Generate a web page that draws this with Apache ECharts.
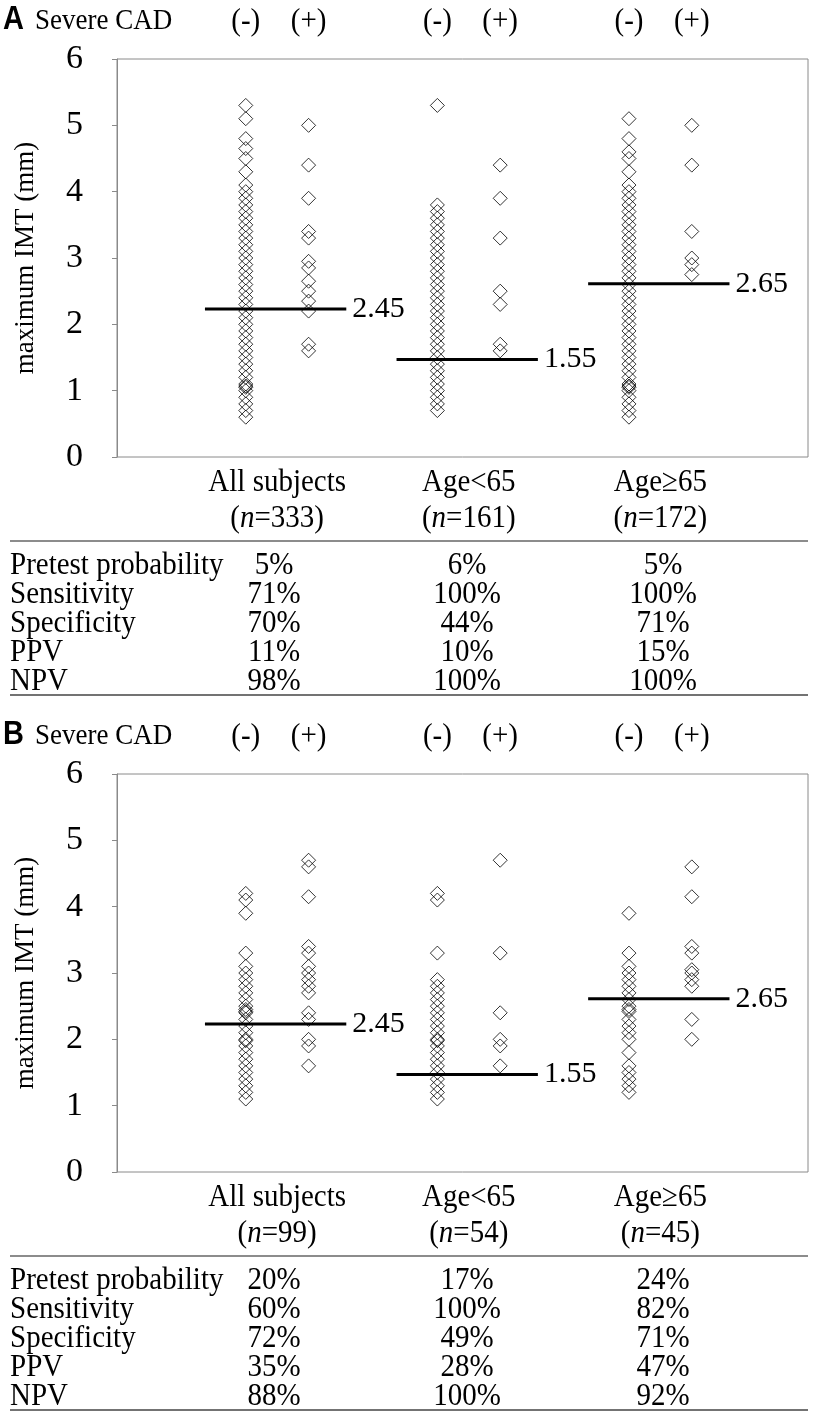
<!DOCTYPE html>
<html>
<head>
<meta charset="utf-8">
<script src="https://cdn.jsdelivr.net/npm/echarts@6/dist/echarts.min.js"></script>
<style>
html,body{margin:0;padding:0;background:#fff;}
#c{width:822px;height:1419px;}
</style>
</head>
<body>
<div id="c"></div>
<script>
// ---------- data ----------
const panels = ['A', 'B'];
const groupNames = ['All subjects', 'Age<65', 'Age\u226565'];
const nA = ['333', '161', '172'];
const nB = ['99', '54', '45'];
const cadLabels = ['(-)', '(+)'];
const yTicks = [0, 1, 2, 3, 4, 5, 6];
const cutoffText = ['2.45', '1.55', '2.65'];
const cutoffLevel = [2.23, 1.47, 2.61]; // drawn height

// Panel A
const aAllNeg = [5.3, 5.1, 4.8, 4.65, 4.5, 4.3, 4.1, 4.0, 3.9, 3.8, 3.7, 3.6, 3.5, 3.4, 3.3, 3.2, 3.1, 3.0, 2.9, 2.8, 2.7, 2.6, 2.5, 2.4, 2.3, 2.2, 2.1, 2.0, 1.9, 1.8, 1.7, 1.6, 1.5, 1.4, 1.3, 1.2, 1.1, 1.05, 1.07, 1.0, 0.9, 0.8, 0.7, 0.6];
const aAllPos = [5.0, 4.4, 3.9, 3.4, 3.3, 2.95, 2.85, 2.65, 2.5, 2.35, 2.2, 1.7, 1.6];
const aYoungNeg = [5.3, 3.8, 3.7, 3.6, 3.5, 3.4, 3.3, 3.2, 3.1, 3.0, 2.9, 2.8, 2.7, 2.6, 2.5, 2.4, 2.3, 2.2, 2.1, 2.0, 1.9, 1.8, 1.7, 1.6, 1.5, 1.4, 1.3, 1.2, 1.1, 1.0, 0.9, 0.8, 0.7];
const aYoungPos = [4.4, 3.9, 3.3, 2.5, 2.3, 1.7, 1.6];
const aOldNeg = [5.1, 4.8, 4.6, 4.5, 4.3, 4.1, 4.0, 3.9, 3.8, 3.7, 3.6, 3.5, 3.4, 3.3, 3.2, 3.1, 3.0, 2.9, 2.8, 2.7, 2.6, 2.5, 2.4, 2.3, 2.2, 2.1, 2.0, 1.9, 1.8, 1.7, 1.6, 1.5, 1.4, 1.3, 1.2, 1.1, 1.05, 1.07, 1.0, 0.9, 0.8, 0.7, 0.6];
const aOldPos = [5.0, 4.4, 3.4, 3.0, 2.9, 2.75];

// Panel B
const bAllNeg = [4.2, 4.1, 3.9, 3.3, 3.1, 3.0, 2.9, 2.8, 2.7, 2.6, 2.5, 2.42, 2.45, 2.4, 2.3, 2.2, 2.1, 1.98, 2.0, 1.9, 1.8, 1.7, 1.6, 1.5, 1.4, 1.3, 1.2, 1.1];
const bAllPos = [4.7, 4.6, 4.15, 3.4, 3.3, 3.1, 3.0, 2.9, 2.8, 2.7, 2.4, 2.3, 2.0, 1.9, 1.6];
const bYoungNeg = [4.2, 4.1, 3.3, 2.9, 2.8, 2.7, 2.6, 2.5, 2.4, 2.3, 2.2, 2.1, 1.98, 2.0, 1.9, 1.8, 1.7, 1.6, 1.5, 1.4, 1.3, 1.2, 1.1];
const bYoungPos = [4.7, 3.3, 2.4, 2.0, 1.9, 1.6];
const bOldNeg = [3.9, 3.3, 3.1, 3.0, 2.9, 2.8, 2.7, 2.6, 2.5, 2.42, 2.45, 2.3, 2.2, 2.1, 2.0, 1.8, 1.6, 1.5, 1.4, 1.3, 1.2];
const bOldPos = [4.6, 4.15, 3.4, 3.3, 3.05, 3.0, 2.9, 2.8, 2.3, 2.0];

const rowLabels = ['Pretest probability', 'Sensitivity', 'Specificity', 'PPV', 'NPV'];
const tableA = [['5%', '6%', '5%'], ['71%', '100%', '100%'], ['70%', '44%', '71%'], ['11%', '10%', '15%'], ['98%', '100%', '100%']];
const tableB = [['20%', '17%', '24%'], ['60%', '100%', '82%'], ['72%', '49%', '71%'], ['35%', '28%', '47%'], ['88%', '100%', '92%']];

// ---------- layout / style ----------
const SERIF = '"Liberation Serif", "Times New Roman", serif';
const SANS = '"Liberation Sans", Arial, sans-serif';
const FS = 29;
const SY = 1.12; // vertical stretch of the reference lettering
const groupCenter = [2.55, 5.6, 8.65];   // x-axis units
const colOffset = [-0.5, 0.5];
const lineFrom = -1.15, lineTo = 1.1;
const gridTop = [59, 774];
const gridH = 398;
const gridLeft = 117, gridW = 691;
const tableCols = [274, 467, 663];

const panelData = [
  [[aAllNeg, aAllPos], [aYoungNeg, aYoungPos], [aOldNeg, aOldPos]],
  [[bAllNeg, bAllPos], [bYoungNeg, bYoungPos], [bOldNeg, bOldPos]]
];
const panelN = [nA, nB];
const panelTable = [tableA, tableB];

const chart = echarts.init(document.getElementById('c'), null, {renderer: 'canvas'});

const grids = [], xAxes = [], yAxes = [], series = [];
panels.forEach((p, pi) => {
  grids.push({left: gridLeft, top: gridTop[pi], width: gridW, height: gridH, show: true,
    borderColor: '#8a8a8a', borderWidth: 1, backgroundColor: 'transparent'});
  xAxes.push({type: 'value', gridIndex: pi, min: 0, max: 11, show: false});
  yAxes.push({type: 'value', gridIndex: pi, min: yTicks[0], max: yTicks[yTicks.length - 1], interval: 1,
    name: 'maximum IMT (mm)', nameLocation: 'middle', nameRotate: 90, nameGap: 78,
    nameTextStyle: {fontFamily: SERIF, fontSize: 27, color: '#000'},
    axisLine: {show: true, lineStyle: {color: '#8a8a8a', width: 1}},
    axisTick: {show: true, inside: false, length: 5, lineStyle: {color: '#8a8a8a'}},
    axisLabel: {fontFamily: SERIF, fontSize: 34, color: '#000', margin: 34},
    splitLine: {show: false}});
  panelData[pi].forEach((grp, gi) => {
    grp.forEach((vals, si) => {
      series.push({
        type: 'scatter', xAxisIndex: pi, yAxisIndex: pi,
        symbol: 'diamond', symbolSize: [14, 14],
        itemStyle: {color: 'rgba(255,255,255,0)', borderColor: '#000', borderWidth: 1},
        data: vals.map(v => [groupCenter[gi] + colOffset[si], v]),
        silent: true, z: 3
      });
    });
    series.push({
      type: 'line', xAxisIndex: pi, yAxisIndex: pi, symbol: 'none', silent: true, z: 4,
      lineStyle: {color: '#000', width: 3},
      data: [[groupCenter[gi] + lineFrom, cutoffLevel[gi]], [groupCenter[gi] + lineTo, cutoffLevel[gi]]],
      endLabel: {show: true, formatter: () => cutoffText[gi], fontFamily: SERIF, fontSize: 30, color: '#000', distance: 6},
      animation: false
    });
  });
});

chart.setOption({
  animation: false,
  grid: grids, xAxis: xAxes, yAxis: yAxes, series: series
});

// ---------- texts & table (placed via axis conversion) ----------
const g = [];
function txt(x, y, text, opt, extra) {
  g.push(Object.assign({type: 'text', x: x, y: y, scaleY: SY, silent: true,
    style: Object.assign({text: text, fontFamily: SERIF, fontSize: FS, fill: '#000',
      textAlign: 'center', textVerticalAlign: 'middle', align: 'center', verticalAlign: 'middle'}, opt || {})}, extra || {}));
}
function hline(x1, x2, y, color, w) {
  g.push({type: 'line', silent: true, shape: {x1: x1, y1: y, x2: x2, y2: y}, style: {stroke: color, lineWidth: w}});
}
panels.forEach((p, pi) => {
  const top = gridTop[pi];
  const bottom = top + gridH;
  const headY = top - 38;
  // panel letter and header
  txt(3, headY - 1, p, {fontFamily: SANS, fontWeight: 'bold', fontSize: 29, textAlign: 'left', align: 'left'});
  txt(35, headY, 'Severe CAD', {fontSize: 27, textAlign: 'left', align: 'left'});
  groupCenter.forEach((c, gi) => {
    colOffset.forEach((o, si) => {
      const px = chart.convertToPixel({gridIndex: pi}, [c + o, 0])[0];
      txt(px, headY, cadLabels[si]);
    });
    const cx = chart.convertToPixel({gridIndex: pi}, [c, 0])[0];
    txt(cx, bottom + 25, groupNames[gi]);
    txt(cx, bottom + 61, '({i|n}=' + panelN[pi][gi] + ')',
      {rich: {i: {fontStyle: 'italic', fontFamily: SERIF, fontSize: FS, fill: '#000'}}});
  });
  // table
  const tTop = bottom + 84;
  hline(10, 808, tTop, '#666', 1.5);
  rowLabels.forEach((lab, ri) => {
    const ry = tTop + 24 + ri * 29;
    txt(10, ry, lab, {textAlign: 'left', align: 'left'});
    panelTable[pi][ri].forEach((v, ci) => txt(tableCols[ci], ry, v));
  });
  hline(10, 808, tTop + 154, '#444', 1.5);
});
chart.setOption({graphic: {elements: g}});
</script>
</body>
</html>
